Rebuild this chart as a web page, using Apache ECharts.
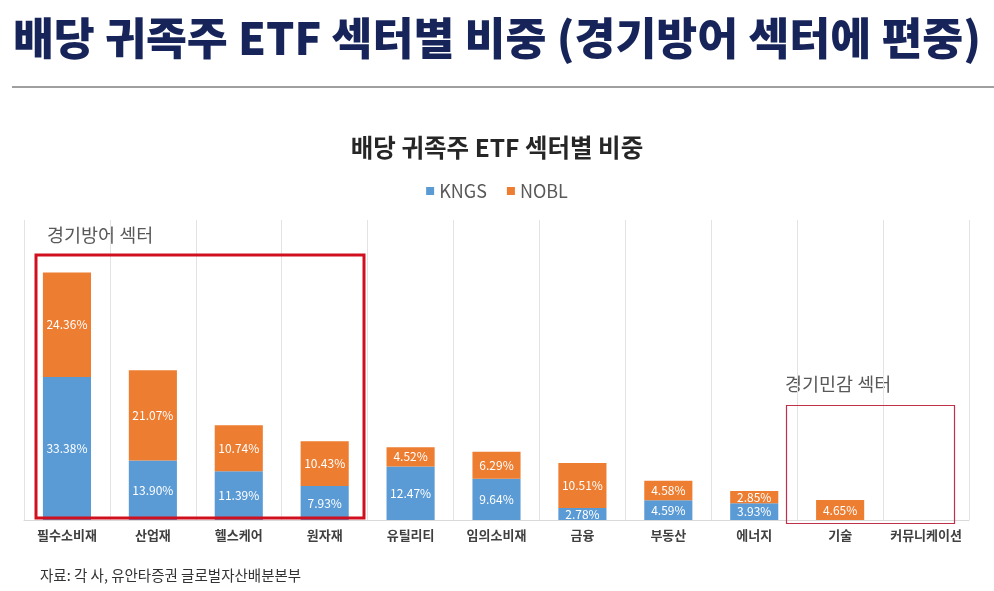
<!DOCTYPE html>
<html><head><meta charset="utf-8">
<script src="https://cdn.jsdelivr.net/npm/echarts@6/dist/echarts.min.js"></script>
<style>html,body{margin:0;padding:0;background:#fff}#c{width:994px;height:591px}</style>
</head><body><div id="c"></div>
<script>
const categories = ['필수소비재','산업재','헬스케어','원자재','유틸리티','임의소비재','금융','부동산','에너지','기술','커뮤니케이션'];
const kngs = [33.38, 13.90, 11.39, 7.93, 12.47, 9.64, 2.78, 4.59, 3.93, 0, 0];
const nobl = [24.36, 21.07, 10.74, 10.43, 4.52, 6.29, 10.51, 4.58, 2.85, 4.65, 0];
const seriesNames = ['KNGS','NOBL'];

const FONT = '"Noto Sans CJK KR", sans-serif';
const chart = echarts.init(document.getElementById('c'), null, {renderer:'canvas'});
const lbl = {show:true, position:'inside', color:'#fff', fontSize:12, fontFamily:FONT,
  formatter: p => p.value > 0 ? p.value.toFixed(2) + '%' : ''};
chart.setOption({
  animation:false,
  textStyle:{fontFamily:FONT},
  title:[{text:'배당 귀족주 ETF 섹터별 비중', left:'center', top:130,
    textStyle:{fontSize:24.5, fontWeight:'bold', color:'#262626', fontFamily:FONT}}],
  legend:{data:seriesNames, top:177, left:'center', itemWidth:8, itemHeight:8, itemGap:20,
    icon:'rect', textStyle:{fontSize:18, color:'#595959', fontFamily:FONT}},
  grid:{left:24, right:25, top:220, bottom:71},
  xAxis:{type:'category', data:categories,
    axisLine:{lineStyle:{color:'#d9d9d9'}}, axisTick:{show:false},
    splitLine:{show:true, lineStyle:{color:'#e3e3e3'}},
    axisLabel:{color:'#404040', fontSize:13, fontWeight:'bold', margin:9, interval:0}},
  yAxis:{type:'value', min:0, max:70, show:false, splitLine:{show:false}},
  series:[
    {name:'KNGS', type:'bar', stack:'s', data:kngs, barCategoryGap:'44%',
      itemStyle:{color:'#5b9bd5'}, label:lbl},
    {name:'NOBL', type:'bar', stack:'s', data:nobl,
      itemStyle:{color:'#ed7d31'}, label:lbl}
  ],
  graphic:[
    {type:'text', left:'center', top:16, style:{text:'배당 귀족주 ETF 섹터별 비중 (경기방어 섹터에 편중)',
      fontSize:44.5, fontWeight:900, fill:'#16245a', fontFamily:FONT}},
    {type:'line', shape:{x1:12, y1:87, x2:994, y2:87}, style:{stroke:'#7f7f7f', lineWidth:1.5}},
    {type:'text', left:47, top:226, style:{text:'경기방어 섹터', fontSize:18.5, fill:'#595959', fontFamily:FONT}},
    {type:'rect', shape:{x:36, y:255, width:328, height:263}, style:{fill:'none', stroke:'#d0101e', lineWidth:3}, z:10},
    {type:'text', left:785, top:375, style:{text:'경기민감 섹터', fontSize:18.5, fill:'#595959', fontFamily:FONT}},
    {type:'rect', shape:{x:786.5, y:405.5, width:168, height:118}, style:{fill:'none', stroke:'#c0304a', lineWidth:1.2}, z:10},
    {type:'text', left:40, top:568, style:{text:'자료: 각 사, 유안타증권 글로벌자산배분본부', fontSize:14.5, fill:'#333', fontFamily:FONT}}
  ]
});
</script></body></html>
